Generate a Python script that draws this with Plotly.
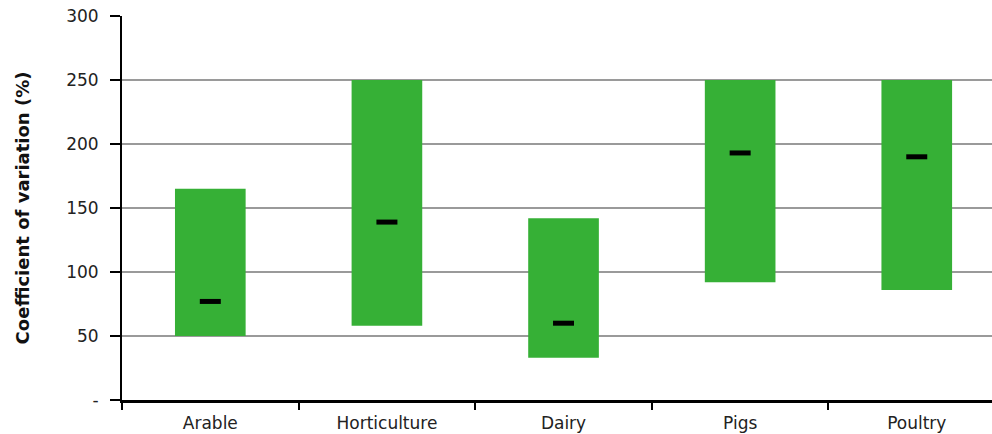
import plotly.graph_objects as go

# Farm types and the spread of their coefficient of variation (%)
categories = ["Arable", "Horticulture", "Dairy", "Pigs", "Poultry"]
range_low = [50, 58, 33, 92, 86]
range_high = [165, 250, 142, 250, 250]
median = [77, 139, 60, 193, 190]

y_tickvals = [0, 50, 100, 150, 200, 250, 300]
y_ticktext = ["-", "50", "100", "150", "200", "250", "300"]
grid_vals = [50, 100, 150, 200, 250]

GREEN = "#36b036"
FONT = "DejaVu Sans, Verdana, sans-serif"

fig = go.Figure()

# Floating range bars: base at the low value, height up to the high value
fig.add_trace(go.Bar(
    x=categories,
    base=range_low,
    y=[h - l for h, l in zip(range_high, range_low)],
    width=0.4,
    marker=dict(color=GREEN, line=dict(width=0)),
    showlegend=False,
    hoverinfo="skip",
))

# Median markers as short thick dashes
fig.add_trace(go.Scatter(
    x=categories,
    y=median,
    mode="markers",
    marker=dict(symbol="line-ew", size=15, color="black",
                line=dict(color="black", width=5)),
    showlegend=False,
    hoverinfo="skip",
))

fig.update_layout(
    width=992,
    height=434,
    margin=dict(l=122, r=0, t=16, b=34),
    paper_bgcolor="white",
    plot_bgcolor="white",
    font=dict(family=FONT, size=17, color="#222222"),
    bargap=0.6,
)

fig.update_xaxes(
    type="category",
    range=[-0.5, 4.426],
    showgrid=False,
    showline=True,
    linecolor="black",
    linewidth=2.5,
    ticks="outside",
    tickson="boundaries",
    ticklen=7,
    tickwidth=1.5,
    tickcolor="black",
    ticklabelstandoff=6,
    tickfont=dict(family=FONT, size=17, color="#222222"),
    zeroline=False,
)

fig.update_yaxes(
    range=[0, 300],
    tickmode="array",
    tickvals=y_tickvals,
    ticktext=y_ticktext,
    showgrid=False,
    zeroline=False,
    showline=True,
    linecolor="black",
    linewidth=2,
    ticks="outside",
    ticklen=10,
    tickwidth=1.5,
    tickcolor="black",
    ticklabelstandoff=8,
    tickfont=dict(family=FONT, size=17, color="#222222"),
    minor=dict(
        tickmode="array",
        tickvals=grid_vals,
        showgrid=True,
        gridcolor="#9a9a9a",
        gridwidth=1.5,
        ticks="",
    ),
    title=dict(
        text="<b>Coefficient of variation (%)</b>",
        font=dict(family=FONT, size=18, color="#111111"),
        standoff=32,
    ),
)

fig.write_html("out.html")
